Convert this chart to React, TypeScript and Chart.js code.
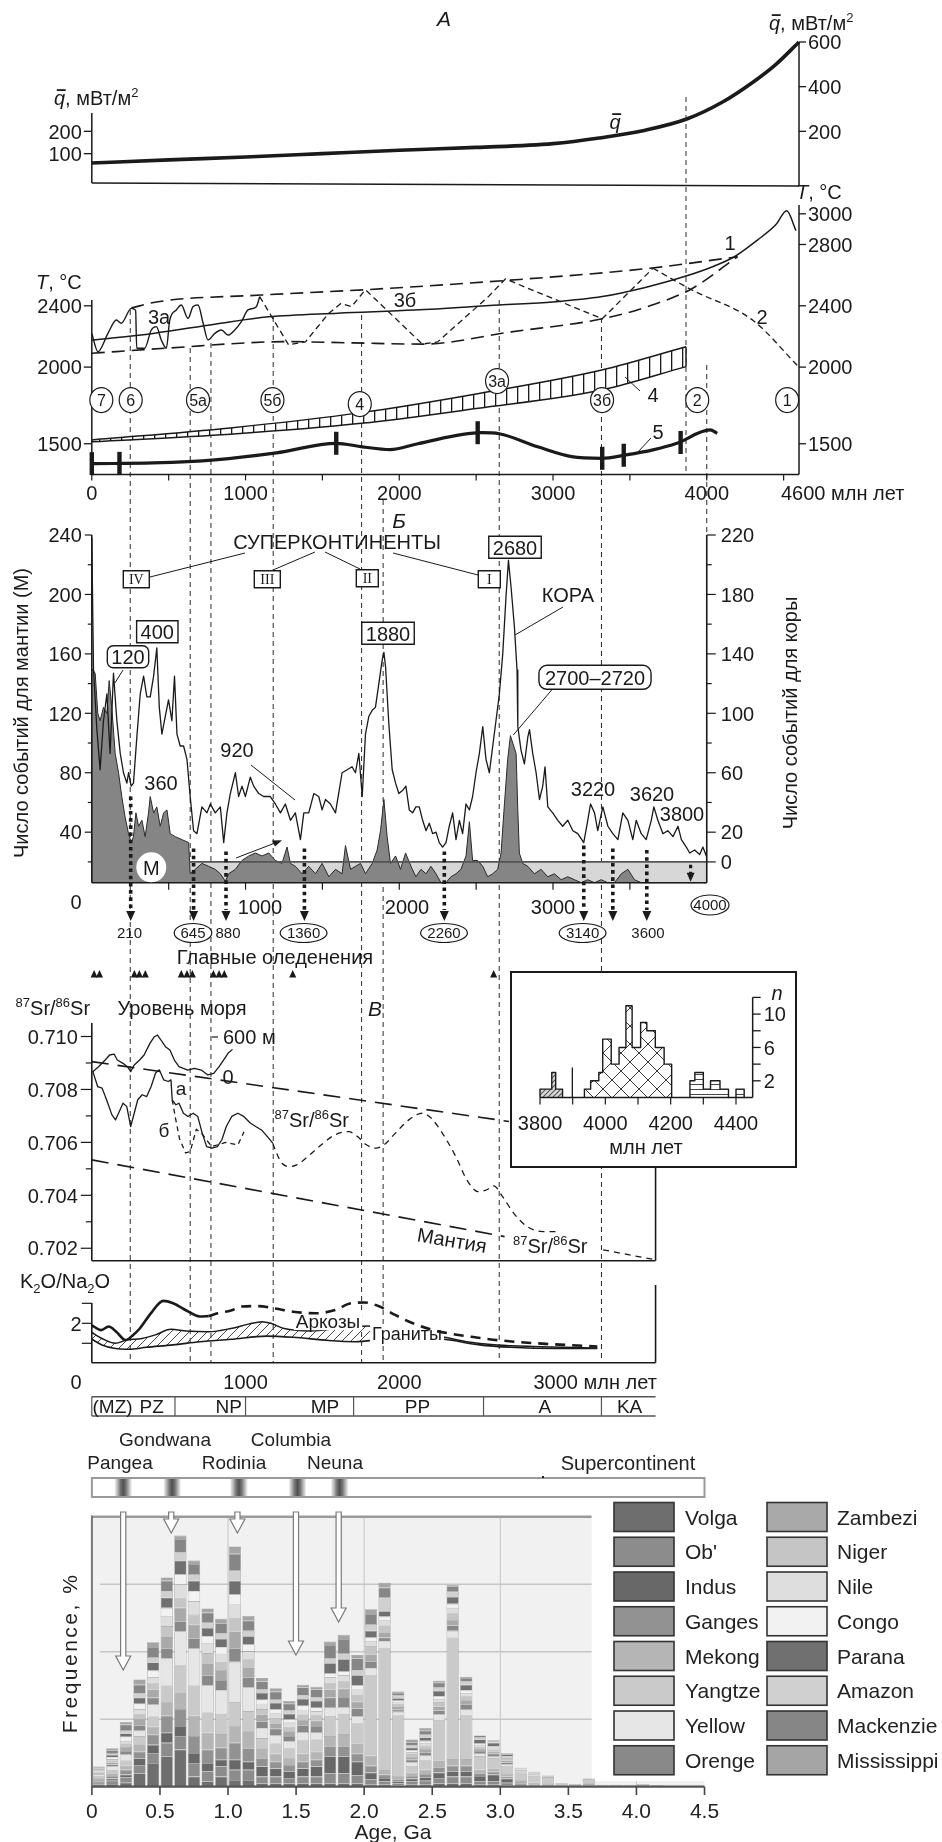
import React, { useEffect, useRef } from 'react';
import { Chart, registerables } from 'chart.js';

Chart.register(...registerables);

const W = 942;
const H = 1842;
const X0 = 91.8;
const X4600 = 799;
const FF = "'Liberation Sans', Arial, Helvetica, sans-serif";
const FSERIF = "'Liberation Serif', 'Times New Roman', serif";
const INK = '#1a1a1a';

/* ======================= DATA ======================= */
// A: mean heat flow q (mW/m2) vs age (Ma)
const heatFlow = [[0, 58], [500, 72], [1000, 85], [1500, 100], [2000, 115], [2500, 128], [3000, 145], [3300, 170], [3600, 205], [3870, 255], [4100, 330], [4300, 420], [4450, 500], [4600, 600]];
const heatTicksL = [100, 200];
const heatTicksR = [200, 400, 600];

// T panel: temperatures (°C) vs age (Ma)
const tCurve1 = [[0, 2175], [400, 2220], [800, 2280], [1150, 2328], [1600, 2352], [2100, 2372], [2650, 2405], [3000, 2425], [3320, 2460], [3600, 2520], [3865, 2594], [4050, 2660], [4180, 2720], [4330, 2829], [4450, 2930], [4520, 3020], [4580, 2890]];
const tUpper = [[257, 2385], [420, 2425], [1100, 2470], [1780, 2505], [2690, 2565], [3630, 2645], [4200, 2720]];
const tLower = [[0, 2090], [480, 2123], [1270, 2166], [1700, 2158], [2150, 2150], [2730, 2230], [3320, 2315], [3600, 2390], [3900, 2510], [4200, 2720]];
const t3a = [[0, 2220], [40, 2101], [105, 2220], [160, 2307], [192, 2286], [257, 2383], [285, 2370], [292, 2123], [344, 2123], [387, 2242], [420, 2264], [452, 2177], [485, 2123], [507, 2307], [550, 2373], [582, 2405], [626, 2318], [658, 2394], [691, 2405], [724, 2286], [756, 2177], [800, 2220], [843, 2242], [886, 2209], [930, 2242], [973, 2296], [1016, 2373], [1070, 2394], [1092, 2460]];
const t3b = [[1092, 2460], [1280, 2145], [1390, 2165], [1540, 2350], [1620, 2415], [1690, 2395], [1780, 2505], [2150, 2150], [2250, 2165], [2580, 2460], [2690, 2575], [3320, 2315], [3650, 2645]];
const t2 = [[3650, 2645], [3900, 2505], [4300, 2305], [4590, 2010]];
const t4Low = [[0, 1513], [900, 1562], [1753, 1633], [2500, 1730], [3317, 1851], [3865, 2003]];
const t4Up = [[0, 1525], [900, 1603], [1753, 1703], [2500, 1825], [3317, 1981], [3865, 2133]];
const t5 = [[0, 1370], [400, 1375], [800, 1395], [1200, 1440], [1590, 1503], [1760, 1480], [1940, 1462], [2120, 1500], [2535, 1572], [2650, 1565], [2900, 1480], [3121, 1416], [3317, 1405], [3474, 1427], [3650, 1460], [3806, 1503], [4022, 1590], [4068, 1568]];
const t5Bars = [[0, 1370], [180, 1372], [1590, 1503], [2510, 1572], [3320, 1405], [3460, 1425], [3830, 1508]];
const tTicksL = [1500, 2000, 2400];
const tTicksR = [1500, 2000, 2400, 2800, 3000];
const ageTicks = [0, 1000, 2000, 3000, 4000];
const stageMarks = [['7', 62, 1785], ['6', 253, 1785], ['5а', 691, 1785], ['5б', 1175, 1785], ['4', 1743, 1759], ['3а', 2636, 1909], ['3б', 3319, 1785], ['2', 3938, 1785], ['1', 4523, 1785]];

// Reference (dashed) ages crossing panels
const refAges = [250, 640, 775, 1180, 1755, 1895, 2650, 3315, 3865, 4000];

// Б panel: crust events (right axis) and mantle events (left axis)
const crustEvents = [[0, 218], [11, 130], [33, 89], [54, 62], [76, 95], [98, 113], [119, 73], [141, 127], [163, 95], [185, 73], [206, 60], [228, 53], [239, 60], [256, 51], [271, 53], [293, 84], [315, 113], [337, 125], [358, 111], [380, 111], [402, 125], [423, 144], [439, 104], [456, 86], [478, 98], [499, 109], [521, 95], [538, 125], [554, 86], [575, 78], [597, 78], [619, 69], [640, 44], [662, 21], [684, 19], [716, 37], [749, 33], [771, 39], [803, 33], [836, 37], [858, 13], [879, 33], [901, 46], [934, 60], [955, 44], [977, 51], [999, 44], [1031, 57], [1053, 51], [1086, 46], [1118, 44], [1161, 44], [1194, 39], [1227, 33], [1259, 39], [1292, 28], [1324, 33], [1357, 15], [1379, 33], [1411, 33], [1444, 46], [1476, 44], [1498, 35], [1520, 42], [1552, 39], [1585, 33], [1628, 60], [1661, 62], [1693, 64], [1715, 60], [1737, 73], [1759, 44], [1780, 86], [1802, 98], [1824, 102], [1845, 104], [1867, 120], [1889, 136], [1900, 141], [1911, 131], [1932, 93], [1954, 62], [1976, 53], [1997, 46], [2021, 48], [2043, 51], [2065, 35], [2087, 33], [2108, 37], [2130, 37], [2152, 28], [2174, 21], [2195, 26], [2217, 19], [2239, 20], [2260, 13], [2282, 10], [2304, 13], [2325, 24], [2347, 33], [2369, 15], [2391, 28], [2412, 19], [2434, 39], [2456, 35], [2477, 44], [2499, 60], [2521, 73], [2543, 91], [2564, 69], [2586, 60], [2608, 78], [2629, 95], [2651, 113], [2673, 140], [2694, 178], [2710, 203], [2727, 185], [2749, 158], [2766, 129], [2771, 91], [2792, 75], [2814, 66], [2836, 84], [2847, 89], [2868, 73], [2890, 60], [2912, 42], [2933, 51], [2948, 64], [2966, 37], [2998, 33], [3031, 28], [3063, 24], [3096, 28], [3129, 21], [3161, 19], [3200, 13], [3226, 28], [3244, 39], [3270, 33], [3291, 21], [3324, 37], [3357, 24], [3389, 19], [3422, 15], [3454, 33], [3487, 28], [3519, 15], [3541, 28], [3574, 19], [3606, 15], [3639, 28], [3656, 37], [3682, 28], [3715, 19], [3747, 21], [3780, 17], [3813, 24], [3835, 15], [3867, 10], [3889, 6], [3921, 8], [3954, 5], [3975, 10], [3997, 4]];
const mantleEvents = [[0, 150], [22, 147], [39, 120], [54, 115], [76, 124], [98, 120], [113, 142], [130, 124], [152, 93], [174, 80], [195, 64], [217, 50], [239, 39], [256, 33], [271, 37], [287, 53], [304, 44], [326, 48], [347, 37], [369, 53], [380, 64], [402, 53], [423, 57], [445, 44], [467, 53], [489, 55], [510, 39], [543, 37], [586, 35], [630, 33], [640, 12], [673, 15], [716, 19], [760, 17], [803, 15], [836, 12], [869, 7], [890, 12], [934, 15], [977, 21], [1021, 24], [1064, 26], [1107, 24], [1151, 26], [1194, 21], [1237, 19], [1270, 30], [1292, 19], [1324, 17], [1368, 12], [1411, 17], [1455, 12], [1498, 19], [1542, 10], [1585, 15], [1628, 12], [1650, 31], [1683, 15], [1715, 17], [1748, 19], [1780, 12], [1824, 19], [1856, 28], [1878, 41], [1900, 62], [1921, 37], [1943, 19], [1976, 24], [2008, 15], [2041, 26], [2076, 17], [2108, 10], [2141, 15], [2174, 12], [2206, 17], [2239, 12], [2271, 6], [2304, 6], [2336, 10], [2369, 12], [2401, 15], [2434, 24], [2456, 47], [2477, 21], [2510, 21], [2543, 17], [2575, 10], [2608, 12], [2640, 15], [2662, 26], [2684, 59], [2705, 89], [2723, 105], [2744, 98], [2760, 93], [2771, 55], [2781, 26], [2803, 19], [2836, 17], [2879, 12], [2922, 15], [2966, 10], [3009, 12], [3053, 8], [3096, 10], [3140, 8], [3183, 6], [3226, 8], [3270, 6], [3313, 8], [3357, 6], [3400, 6], [3444, 12], [3487, 15], [3530, 8], [3574, 6], [3617, 6], [4000, 6]];
const mantleTicks = [40, 80, 120, 160, 200, 240];
const crustTicks = [0, 20, 60, 100, 140, 180, 220];
const minimaAges = [253, 662, 873, 1383, 2293, 3200, 3389, 3610];
const minimaStart = [64, 29, 27, 29, 27, 31, 29, 28];
const minimaLabels = ['210', '645', '880', '1360', '2260', '3140', '', '3600'];
const glaciations = [15, 50, 277, 309, 348, 582, 619, 654, 791, 828, 862, 1307, 2614];

// В panel: 87Sr/86Sr and sea level
const srSeawaterLine = [[0, 0.70905], [2714, 0.70679]];
const srMantleLine = [[0, 0.70534], [2685, 0.70244]];
const seaLevel = [[6, 92], [44, 164], [87, 261], [116, 334], [145, 348], [166, 261], [203, 213], [232, 164], [253, 92], [276, 189], [311, 261], [340, 334], [378, 503], [407, 600], [427, 624], [450, 552], [479, 455], [508, 407], [537, 261], [567, 164], [595, 140], [625, 116], [668, 140], [712, 116], [755, 44], [793, 68], [828, 164], [857, 261], [886, 358], [915, 416]];
const srA = [[6, 0.70869], [38, 0.70811], [67, 0.70805], [96, 0.70761], [131, 0.70704], [154, 0.70685], [174, 0.7071], [203, 0.70748], [227, 0.70736], [253, 0.7066], [276, 0.7071], [299, 0.70761], [328, 0.7078], [357, 0.70773], [386, 0.70811], [415, 0.70862], [439, 0.70874], [468, 0.70836], [497, 0.7083], [515, 0.70836], [523, 0.70761], [547, 0.70742], [567, 0.70748], [596, 0.7071], [625, 0.70698], [660, 0.7071], [689, 0.70698], [718, 0.70635], [747, 0.70584], [782, 0.70578], [817, 0.70584], [846, 0.7061], [875, 0.7066], [910, 0.70698], [950, 0.7071], [988, 0.70698], [1031, 0.70673], [1066, 0.7066], [1104, 0.70647], [1142, 0.70622], [1177, 0.70597]];
const srB = [[523, 0.70761], [545, 0.7069], [570, 0.70615], [610, 0.7056], [640, 0.70565], [680, 0.7065], [720, 0.7063], [780, 0.70584], [870, 0.706], [950, 0.7059], [990, 0.7064]];
const srDashed = [[1177, 0.70597], [1202, 0.70559], [1237, 0.70521], [1283, 0.70509], [1333, 0.70515], [1406, 0.70547], [1493, 0.70591], [1580, 0.70628], [1670, 0.70641], [1728, 0.70622], [1786, 0.70591], [1844, 0.70578], [1902, 0.70591], [1975, 0.70635], [2062, 0.70685], [2149, 0.7071], [2207, 0.70692], [2280, 0.70635], [2367, 0.70547], [2440, 0.70458], [2512, 0.70414], [2570, 0.70421], [2614, 0.70436], [2672, 0.70395], [2745, 0.70332], [2832, 0.70282], [2934, 0.70263], [3021, 0.70263], [3060, null], [3326, 0.70194], [3669, 0.70156]];
const srTicks = [0.702, 0.703, 0.704, 0.705, 0.706, 0.707, 0.708, 0.709, 0.71];

// Inset histogram (zircon ages, Ma)
const insetEdges1 = [3800, 3836, 3848, 3869];
const insetCounts1 = [1, 3, 1];
const insetEdges2 = [3936, 3955, 3980, 3992, 4018, 4042, 4063, 4082, 4108, 4127, 4153, 4180, 4203];
const insetCounts2 = [1, 2, 3, 7, 4, 6, 11, 6, 9, 8, 6, 4];
const insetEdges3 = [4259, 4274, 4300, 4322, 4351, 4377];
const insetCounts3 = [2, 3, 1, 2, 1];
const insetEdges4 = [4400, 4425];
const insetCounts4 = [1];
const insetXTicks = [3800, 4000, 4200, 4400];
const insetYTicks = [2, 6, 10];

// K2O/Na2O panel
const k2oSolid = [[0, 1.95], [61, 1.83], [110, 1.92], [159, 1.79], [220, 1.58], [269, 1.71], [312, 1.87], [384, 2.25], [465, 2.56], [529, 2.5], [615, 2.32], [702, 2.17], [760, 2.18]];
const k2oDashed = [[760, 2.18], [818, 2.25], [905, 2.32], [977, 2.42], [1078, 2.43], [1193, 2.37], [1309, 2.29], [1453, 2.25], [1583, 2.33], [1684, 2.5], [1771, 2.52], [1872, 2.42], [1973, 2.21], [2089, 2.0], [2219, 1.83], [2349, 1.73], [2494, 1.65], [2638, 1.58], [2812, 1.52], [2985, 1.48], [3288, 1.42]];
const k2oUpper = [[0, 1.77], [66, 1.62], [153, 1.5], [225, 1.58], [327, 1.62], [413, 1.71], [514, 1.85], [615, 1.81], [760, 1.79], [905, 1.87], [1020, 1.98], [1107, 2.04], [1165, 2.0], [1251, 1.87], [1425, 1.81], [1598, 1.87], [1713, 1.92], [1800, 1.93], [1887, 1.73], [2147, 1.7], [2292, 1.65], [2436, 1.54], [2638, 1.46], [2870, 1.42], [3288, 1.38]];
const k2oLower = [[0, 1.6], [66, 1.46], [153, 1.37], [240, 1.35], [355, 1.4], [529, 1.46], [702, 1.54], [905, 1.6], [1136, 1.68], [1309, 1.65], [1540, 1.57], [1713, 1.54], [1887, 1.6], [2060, 1.65], [2292, 1.6], [2523, 1.46], [2725, 1.4], [3014, 1.37], [3288, 1.37]];
const eraBounds = [0, 541, 1000, 1703, 2548, 3315, 3667];
const eraNames = ['(MZ)', 'PZ', 'NP', 'MP', 'PP', 'A', 'KA'];
const eraLabelAges = [135, 390, 890, 1517, 2118, 2946, 3498];

// Bottom: detrital zircon age frequency by river (stacked, %), 0.1 Ga bins
const binAges = [0.05, 0.15, 0.25, 0.35, 0.45, 0.55, 0.65, 0.75, 0.85, 0.95, 1.05, 1.15, 1.25, 1.35, 1.45, 1.55, 1.65, 1.75, 1.85, 1.95, 2.05, 2.15, 2.25, 2.35, 2.45, 2.55, 2.65, 2.75, 2.85, 2.95, 3.05, 3.15, 3.25, 3.35, 3.45, 3.55, 3.65, 3.75, 3.85, 3.95, 4.05, 4.15];
const rivers = ['Volga', "Ob'", 'Indus', 'Ganges', 'Mekong', 'Yangtze', 'Yellow', 'Orenge', 'Zambezi', 'Niger', 'Nile', 'Congo', 'Parana', 'Amazon', 'Mackenzie', 'Mississippi'];
const riverColors = ['#6e6e6e', '#8c8c8c', '#686868', '#929292', '#b5b5b5', '#cacaca', '#e6e6e6', '#898989', '#a9a9a9', '#c5c5c5', '#dedede', '#f2f2f2', '#707070', '#d0d0d0', '#868686', '#a5a5a5'];
const volga = [0.3, 0.4, 0.6, 2.0, 3.5, 4.5, 5.5, 1.5, 0.8, 1.5, 1.0, 1.0, 0.5, 0.5, 0.5, 0.5, 0.5, 0.5, 0.5, 0.5, 0.3, 0.3, 0.2, 0.3, 0.3, 0.5, 0.5, 0.5, 0.3, 0.3, 0.2, 0.1, 0.1, 0.1, 0.1, 0.1, 0.2, 0.1, 0.1, 0.1, 0.1, 0.1];
const ob = [0.3, 0.5, 0.8, 1.2, 1.5, 2.0, 2.0, 2.0, 1.5, 1.5, 1.5, 1.5, 1.0, 1.0, 0.8, 1.0, 1.0, 1.5, 1.5, 1.2, 0.8, 0.5, 0.3, 0.5, 0.6, 0.8, 1.0, 1.0, 0.5, 0.5, 0.4, 0.2, 0.1, 0.1, 0, 0, 0.1, 0, 0, 0, 0, 0];
const indus = [0.2, 0.3, 0.4, 1.0, 1.2, 1.5, 1.5, 1.5, 1.2, 1.0, 1.5, 1.2, 1.5, 1.2, 1.0, 1.2, 1.5, 2.5, 2.5, 2.0, 1.0, 0.5, 0.3, 0.4, 0.5, 0.8, 0.8, 0.8, 0.8, 1.0, 0.6, 0.2, 0.1, 0.1, 0, 0.1, 0.1, 0, 0, 0, 0.1, 0];
const ganges = [0.2, 0.4, 0.7, 1.0, 1.5, 2.5, 2.5, 2.5, 2.0, 1.8, 2.5, 2.0, 1.2, 1.0, 0.9, 1.0, 1.0, 1.5, 1.5, 1.2, 1.0, 0.5, 0.3, 0.4, 0.5, 0.8, 0.8, 0.8, 0.4, 0.4, 0.3, 0.2, 0.1, 0.1, 0, 0, 0.1, 0, 0, 0, 0, 0];
const mekong = [0.3, 0.4, 0.6, 1.1, 1.2, 2.0, 2.5, 3.0, 2.5, 2.0, 2.5, 2.5, 1.5, 1.2, 1.0, 1.2, 1.2, 1.5, 1.8, 1.5, 1.5, 0.8, 0.5, 0.5, 0.6, 1.0, 1.0, 1.0, 0.5, 0.5, 0.4, 0.3, 0.2, 0.1, 0, 0, 0, 0, 0, 0, 0, 0];
const yangtze = [0.3, 0.5, 0.8, 1.2, 1.5, 2.5, 4.0, 4.5, 3.0, 3.0, 3.5, 3.0, 1.5, 1.5, 1.5, 2.0, 1.8, 3.0, 3.0, 3.0, 12.0, 18.0, 9.0, 1.0, 1.5, 6.0, 18.0, 6.5, 2.0, 1.5, 1.2, 1.0, 1.0, 0.8, 0.3, 0.2, 0.5, 0.2, 0.2, 0.2, 0.2, 0.1];
const yellow = [0.2, 0.5, 0.9, 0.8, 1.8, 4.0, 5.0, 5.5, 4.0, 3.5, 6.0, 3.5, 1.5, 1.2, 1.0, 1.2, 1.0, 1.2, 1.0, 1.0, 1.0, 1.0, 0.5, 0.5, 0.6, 0.8, 1.0, 0.8, 0.4, 0.3, 0.2, 0.1, 0.1, 0, 0, 0, 0, 0, 0, 0, 0, 0];
const orenge = [0.2, 0.3, 0.5, 0.8, 1.0, 1.5, 1.5, 1.5, 1.5, 1.5, 2.0, 1.5, 1.0, 1.0, 0.8, 1.0, 1.0, 1.5, 1.5, 1.2, 1.0, 0.5, 0.3, 0.4, 0.5, 0.6, 0.8, 0.8, 0.4, 0.4, 0.3, 0.1, 0.1, 0.1, 0, 0, 0.1, 0, 0, 0, 0, 0];
const zambezi = [0.1, 0.3, 0.6, 0.9, 1.2, 1.8, 2.0, 2.0, 1.8, 1.5, 2.5, 1.5, 1.0, 0.8, 0.7, 0.8, 0.8, 1.2, 1.2, 1.0, 1.0, 0.8, 0.4, 0.4, 0.5, 0.6, 0.8, 0.6, 0.3, 0.3, 0.3, 0.1, 0.1, 0.1, 0, 0, 0, 0, 0, 0, 0, 0];
const niger = [0.1, 0.3, 0.5, 0.8, 1.0, 1.5, 1.5, 1.5, 1.5, 1.2, 2.0, 1.2, 0.8, 0.8, 0.7, 0.8, 0.8, 1.0, 1.2, 1.0, 1.2, 1.0, 0.5, 0.4, 0.5, 0.6, 1.0, 0.6, 0.3, 0.3, 0.3, 0.2, 0.1, 0.1, 0.1, 0, 0.1, 0, 0, 0, 0, 0];
const nile = [0.1, 0.2, 0.4, 0.7, 0.8, 1.5, 2.0, 2.0, 1.5, 1.2, 2.0, 1.2, 0.8, 0.7, 0.6, 0.7, 0.6, 0.8, 0.8, 0.8, 0.8, 0.8, 0.3, 0.3, 0.4, 0.5, 0.8, 0.5, 0.3, 0.3, 0.2, 0.1, 0.1, 0.1, 0, 0, 0, 0, 0, 0, 0, 0];
const congo = [0.1, 0.3, 0.6, 0.8, 1.0, 1.2, 1.5, 1.5, 1.0, 1.0, 1.5, 1.0, 0.6, 0.6, 0.5, 0.6, 0.5, 0.6, 0.6, 0.6, 0.5, 0.5, 0.2, 0.3, 0.3, 0.4, 0.6, 0.4, 0.2, 0.2, 0.1, 0.1, 0, 0, 0, 0, 0, 0, 0, 0, 0, 0];
const parana = [0.2, 0.3, 0.5, 0.9, 1.2, 1.5, 2.0, 1.5, 1.2, 1.2, 2.0, 1.2, 1.0, 0.9, 0.8, 1.0, 1.0, 1.5, 1.8, 1.5, 1.0, 0.8, 0.3, 0.4, 0.5, 0.8, 1.0, 0.8, 0.6, 0.5, 0.3, 0.1, 0.1, 0, 0, 0, 0, 0, 0, 0, 0, 0];
const amazon = [0.1, 0.2, 0.4, 0.6, 0.8, 1.0, 1.2, 1.0, 0.8, 0.8, 1.5, 0.8, 0.5, 0.5, 0.5, 0.6, 0.5, 0.7, 0.8, 0.8, 1.0, 2.0, 0.4, 0.3, 0.4, 0.5, 0.8, 0.5, 0.3, 0.2, 0.2, 0, 0, 0, 0, 0, 0, 0, 0, 0, 0, 0];
const mackenzie = [0.2, 0.5, 0.9, 1.3, 1.5, 1.5, 2.0, 1.5, 1.5, 1.5, 2.5, 1.5, 1.2, 1.2, 1.0, 1.1, 1.2, 2.0, 2.2, 1.7, 1.5, 1.5, 0.4, 0.5, 0.6, 0.7, 0.8, 0.5, 0.3, 0.2, 0, 0, 0, 0, 0, 0, 0, 0, 0, 0, 0, 0];
const mississippi = [0.1, 0.3, 0.4, 0.8, 0.7, 0.5, 0.5, 0.5, 0.6, 0.7, 1.1, 0.7, 0.5, 0.5, 0.4, 0.4, 0.4, 0.5, 0.6, 0.5, 0.7, 0.7, 0.2, 0.4, 0.4, 0.3, 0.2, 0.2, 0, 0, 0, 0, 0, 0, 0, 0, 0, 0, 0, 0, 0, 0];
const riverSeries = [volga, ob, indus, ganges, mekong, yangtze, yellow, orenge, zambezi, niger, nile, congo, parana, amazon, mackenzie, mississippi];
const gaTicks = [0, 0.5, 1, 1.5, 2, 2.5, 3, 3.5, 4, 4.5];
const supercontinents = ['Pangea', 'Gondwana', 'Rodinia', 'Columbia', 'Neuna'];
const supercontinentAges = [0.23, 0.59, 1.08, 1.51, 1.82];

/* ======================= DRAW HELPERS ======================= */
function parseRich(s: string) {
  const out: any[] = [];
  const re = /\^\{([^}]*)\}|_\{([^}]*)\}|\*([^*]*)\*|~([^~]*)~|([^\^_*~]+)/g;
  let m: any;
  while ((m = re.exec(s))) {
    if (m[1] !== undefined) out.push({ t: m[1], sup: true });
    else if (m[2] !== undefined) out.push({ t: m[2], sub: true });
    else if (m[3] !== undefined) out.push({ t: m[3], it: true });
    else if (m[4] !== undefined) out.push({ t: m[4], it: true, bar: true });
    else out.push({ t: m[5] });
  }
  return out;
}

function rt(c: any, s: string, x: number, y: number, o: any = {}) {
  const size = o.size || 20;
  const align = o.align || 'center';
  const fam = o.font || FF;
  const segs = parseRich(s);
  c.save();
  if (o.ls && 'letterSpacing' in c) c.letterSpacing = o.ls;
  c.translate(x, y);
  if (o.rot) c.rotate(o.rot);
  const fnt = (sg: any) => `${sg.it ? 'italic ' : ''}${(sg.sup || sg.sub) ? Math.round(size * 0.66) : size}px ${fam}`;
  let w = 0;
  const ws = segs.map((sg: any) => { c.font = fnt(sg); const v = c.measureText(sg.t).width; w += v; return v; });
  let cx = align === 'left' ? 0 : align === 'center' ? -w / 2 : -w;
  const base = size * 0.36;
  if (o.bg) { c.fillStyle = o.bg; c.fillRect(cx - 2, -size * 0.5, w + 4, size * 0.98); }
  c.textBaseline = 'alphabetic';
  c.textAlign = 'left';
  c.fillStyle = o.color || INK;
  segs.forEach((sg: any, i: number) => {
    c.font = fnt(sg);
    const dy = sg.sup ? -size * 0.4 : sg.sub ? size * 0.22 : 0;
    c.fillText(sg.t, cx, base + dy);
    if (sg.bar) c.fillRect(cx + ws[i] * 0.25, base - size * 0.8, ws[i] * 0.8, Math.max(1.6, size * 0.09));
    cx += ws[i];
  });
  c.restore();
  return w;
}

function seg(c: any, p: number[][], w = 1.3, col = INK, dash: number[] | null = null) {
  c.save();
  c.beginPath();
  c.lineWidth = w;
  c.strokeStyle = col;
  c.setLineDash(dash || []);
  c.moveTo(p[0][0], p[0][1]);
  for (let i = 1; i < p.length; i++) c.lineTo(p[i][0], p[i][1]);
  c.stroke();
  c.restore();
}

function triDown(c: any, x: number, tipY: number, w: number, h: number) {
  c.beginPath(); c.moveTo(x - w / 2, tipY - h); c.lineTo(x + w / 2, tipY - h); c.lineTo(x, tipY); c.closePath();
  c.fillStyle = INK; c.fill();
}
function triUp(c: any, x: number, baseY: number, w: number, h: number) {
  c.beginPath(); c.moveTo(x - w / 2, baseY); c.lineTo(x + w / 2, baseY); c.lineTo(x, baseY - h); c.closePath();
  c.fillStyle = INK; c.fill();
}

function rrect(c: any, x: number, y: number, w: number, h: number, r: number) {
  c.beginPath();
  c.moveTo(x + r, y);
  c.arcTo(x + w, y, x + w, y + h, r);
  c.arcTo(x + w, y + h, x, y + h, r);
  c.arcTo(x, y + h, x, y, r);
  c.arcTo(x, y, x + w, y, r);
  c.closePath();
}

function boxLabel(c: any, s: string, x: number, y: number, o: any = {}) {
  const size = o.size || 20;
  c.save();
  c.font = `${size}px ${o.font || FF}`;
  const w = o.w || c.measureText(s).width + (o.px ?? 5) * 2;
  const h = o.h || size + 3;
  if (o.round) rrect(c, x - w / 2, y - h / 2, w, h, o.round);
  else { c.beginPath(); c.rect(x - w / 2, y - h / 2, w, h); }
  c.fillStyle = '#fff'; c.fill();
  c.lineWidth = o.lw || 1.4; c.strokeStyle = INK; c.stroke();
  c.restore();
  rt(c, s, x, y + (o.dy || 0), { size, font: o.font });
}

function ringLabel(c: any, s: string, x: number, y: number, rx: number, ry: number, size: number) {
  c.save();
  c.beginPath(); c.ellipse(x, y, rx, ry, 0, 0, Math.PI * 2);
  c.fillStyle = '#fff'; c.fill(); c.lineWidth = 1.2; c.strokeStyle = INK; c.stroke();
  c.restore();
  rt(c, s, x, y, { size });
}

function makePattern(kind: string) {
  const cv = document.createElement('canvas');
  const g: any = cv.getContext('2d');
  if (kind === 'vert') {
    cv.width = 11; cv.height = 4;
    g.fillStyle = '#fff'; g.fillRect(0, 0, 11, 4);
    g.fillStyle = INK; g.fillRect(0, 0, 1.3, 4);
  } else if (kind === 'diag') {
    cv.width = 9; cv.height = 9;
    g.strokeStyle = '#333'; g.lineWidth = 0.9;
    g.beginPath(); g.moveTo(0, 9); g.lineTo(9, 0); g.moveTo(-2, 2); g.lineTo(2, -2); g.moveTo(7, 11); g.lineTo(11, 7); g.stroke();
  } else if (kind === 'diagGrey') {
    cv.width = 5; cv.height = 5;
    g.fillStyle = '#d8d8d8'; g.fillRect(0, 0, 5, 5);
    g.strokeStyle = '#555'; g.lineWidth = 1.1;
    g.beginPath(); g.moveTo(0, 5); g.lineTo(5, 0); g.moveTo(-1, 1); g.lineTo(1, -1); g.moveTo(4, 6); g.lineTo(6, 4); g.stroke();
  } else if (kind === 'cross') {
    cv.width = 18; cv.height = 18;
    g.fillStyle = '#fff'; g.fillRect(0, 0, 18, 18);
    g.strokeStyle = '#222'; g.lineWidth = 0.9;
    g.beginPath(); g.moveTo(0, 0); g.lineTo(18, 18); g.moveTo(18, 0); g.lineTo(0, 18); g.stroke();
  } else {
    cv.width = 4; cv.height = 5;
    g.fillStyle = '#fff'; g.fillRect(0, 0, 4, 5);
    g.fillStyle = '#333'; g.fillRect(0, 4, 4, 0.9);
  }
  return g.createPattern(cv, 'repeat');
}

const pts = (a: any[]) => a.map((p: any) => ({ x: p[0], y: p[1] }));

function ln(data: any[], o: any = {}) {
  return {
    data: pts(data),
    borderColor: o.c || INK,
    borderWidth: o.w ?? 1.3,
    borderDash: o.dash || [],
    pointRadius: 0,
    pointHoverRadius: 0,
    fill: o.fill ?? false,
    backgroundColor: o.bg || 'rgba(0,0,0,0)',
    cubicInterpolationMode: o.mono ? 'monotone' : 'default',
    tension: 0,
    yAxisID: o.y || 'y',
    clip: false,
    spanGaps: false,
    borderJoinStyle: 'round',
    order: o.order ?? 0,
  };
}

function steps(edges: number[], counts: number[]) {
  const p: number[][] = [[edges[0], 0]];
  counts.forEach((n, i) => { p.push([edges[i], n]); p.push([edges[i + 1], n]); });
  p.push([edges[edges.length - 1], 0]);
  return p;
}

function build(cv: any, type: string, datasets: any[], scales: any, pad: any, hooks: any) {
  return new Chart(cv, {
    type: type as any,
    data: { datasets },
    options: {
      responsive: false,
      maintainAspectRatio: false,
      animation: false,
      devicePixelRatio: 1,
      events: [],
      layout: { padding: pad },
      plugins: { legend: { display: false }, tooltip: { enabled: false }, title: { display: false } } as any,
      scales,
    } as any,
    plugins: [{ id: 'deco', ...hooks }],
  });
}

const lin = (min: number, max: number, extra: any = {}) => ({ type: 'linear', min, max, display: false, ...extra });
const padAge = (top: number, bottom: number) => ({ left: X0, right: W - X4600, top, bottom: H - bottom });

/* ======================= CHARTS ======================= */
function chartA(cv: any) {
  return build(cv, 'line', [ln(heatFlow, { w: 3.6, mono: true })], { x: lin(0, 4600), y: lin(0, 600) }, padAge(42, 176), {
    afterDatasetsDraw(ch: any) {
      const c = ch.ctx, y = ch.scales.y, x = ch.scales.x;
      const xr = x.getPixelForValue(4600);
      seg(c, [[X0, 113], [X0, 183]], 1.5);
      heatTicksL.forEach((v) => { const py = y.getPixelForValue(v); seg(c, [[X0 - 8, py], [X0, py]], 1.3); rt(c, String(v), X0 - 10, py, { align: 'right' }); });
      seg(c, [[xr, 42], [xr, 186]], 1.5);
      heatTicksR.forEach((v) => { const py = y.getPixelForValue(v); seg(c, [[xr, py], [xr + 7, py]], 1.3); rt(c, String(v), xr + 9, py, { align: 'left' }); });
      seg(c, [[X0, 183], [xr, 186]], 1.5);
      rt(c, '*А*', 444, 18, { size: 21 });
      rt(c, '~q~, мВт/м^{2}', 54, 98, { align: 'left' });
      rt(c, '~q~, мВт/м^{2}', 769, 23, { align: 'left' });
      rt(c, '~q~', 615, 122);
    },
  });
}

function chartT(cv: any) {
  const vpat = makePattern('vert');
  const ds = [
    ln(tCurve1, { w: 1.5, mono: true }),
    ln(t3a, { w: 1.4, mono: true }),
    ln(tUpper, { w: 1.6, dash: [13, 7], mono: true }),
    ln(tLower, { w: 1.6, dash: [13, 7], mono: true }),
    ln(t3b, { w: 1.3, dash: [6, 4] }),
    ln(t2, { w: 1.3, dash: [6, 4], mono: true }),
    ln(t4Low, { w: 1.5, mono: true }),
    ln(t4Up, { w: 1.5, mono: true, fill: { target: 6 }, bg: vpat }),
    ln(t5, { w: 3.2, mono: true }),
  ];
  return build(cv, 'line', ds, { x: lin(0, 4600), y: lin(1300, 3100) }, padAge(198.5, 474.4), {
    beforeDatasetsDraw(ch: any) {
      const c = ch.ctx, x = ch.scales.x;
      const spans = [[310, 1362], [348, 1362], [343, 1362], [317, 1362], [315, 1362], [500, 1362], [300, 1362], [318, 1362], [97, 474], [365, 535]];
      refAges.forEach((a, i) => { const px = x.getPixelForValue(a); seg(c, [[px, spans[i][0]], [px, spans[i][1]]], 1, '#2a2a2a', [5, 4]); });
    },
    afterDatasetsDraw(ch: any) {
      const c = ch.ctx, x = ch.scales.x, y = ch.scales.y;
      const xr = x.getPixelForValue(4600);
      const yb = y.getPixelForValue(1300);
      seg(c, [[x.getPixelForValue(3865), y.getPixelForValue(2003)], [x.getPixelForValue(3865), y.getPixelForValue(2133)]], 1.5);
      seg(c, [[X0, 300], [X0, yb]], 1.5);
      tTicksL.forEach((v) => { const py = y.getPixelForValue(v); seg(c, [[X0 - 8, py], [X0, py]], 1.3); rt(c, String(v), X0 - 10, py, { align: 'right' }); });
      seg(c, [[xr, 205], [xr, yb]], 1.5);
      tTicksR.forEach((v) => { const py = y.getPixelForValue(v); seg(c, [[xr, py], [xr + 7, py]], 1.3); rt(c, String(v), xr + 9, py, { align: 'left' }); });
      seg(c, [[X0, yb], [xr, yb]], 1.5);
      for (let a = 0; a <= 4500; a += 500) { const px = x.getPixelForValue(a); seg(c, [[px, yb], [px, yb + 6]], 1.2); }
      ageTicks.forEach((a) => rt(c, String(a), x.getPixelForValue(a), 493));
      rt(c, '4600 млн лет', 781, 493, { align: 'left' });
      rt(c, '*T*, °C', 36, 282, { align: 'left' });
      rt(c, '*T*, °C', 796, 192, { align: 'left' });
      t5Bars.forEach(([a, v]) => { const px = x.getPixelForValue(a), py = y.getPixelForValue(v); c.fillStyle = INK; c.fillRect(px - 2.2, py - 11.5, 4.4, 23); });
      stageMarks.forEach(([s, a, v]: any) => ringLabel(c, s, x.getPixelForValue(a), y.getPixelForValue(v), 11.5, 12.5, 16));
      rt(c, '3а', 159, 317, { size: 20 });
      rt(c, '3б', 405, 300, { size: 20 });
      rt(c, '1', 730, 243, { size: 20 });
      rt(c, '2', 762, 317, { size: 20 });
      rt(c, '4', 653, 395, { size: 20 });
      seg(c, [[640, 391], [625, 377]], 1);
      rt(c, '5', 658, 432, { size: 20 });
      seg(c, [[651, 438], [637, 453]], 1);
    },
  });
}

function chartB(cv: any) {
  const ds = [
    ln(crustEvents, { w: 1.3, y: 'y2' }),
    ln(mantleEvents, { w: 1, c: '#2a2a2a', fill: 'start', bg: '#858585' }),
  ];
  return build(cv, 'line', ds, { x: lin(0, 4600), y: lin(6, 240), y2: lin(-14, 220, { position: 'right' }) }, padAge(535, 882.7), {
    beforeDatasetsDraw(ch: any) {
      const c = ch.ctx, x = ch.scales.x, y = ch.scales.y;
      const xa = x.getPixelForValue(634), xb = x.getPixelForValue(4000);
      c.fillStyle = '#d7d7d7';
      c.fillRect(xa, y.getPixelForValue(20), xb - xa, y.getPixelForValue(6) - y.getPixelForValue(20));
    },
    afterDatasetsDraw(ch: any) {
      const c = ch.ctx, x = ch.scales.x, y = ch.scales.y, y2 = ch.scales.y2;
      const xa = x.getPixelForValue(634), xr = x.getPixelForValue(4000);
      const yb = y.getPixelForValue(6);
      seg(c, [[xa, y2.getPixelForValue(0)], [xr, y2.getPixelForValue(0)]], 1.8, '#555');
      seg(c, [[X0, 535], [X0, yb]], 1.6);
      for (let v = 20; v <= 240; v += 20) { const py = y.getPixelForValue(v); seg(c, [[X0 - (v % 40 === 0 ? 7 : 4), py], [X0, py]], 1.2); }
      mantleTicks.forEach((v) => rt(c, String(v), X0 - 10, y.getPixelForValue(v), { align: 'right' }));
      rt(c, '0', 76, 902);
      seg(c, [[xr, 535], [xr, yb]], 1.6);
      for (let v = 0; v <= 220; v += 20) { const py = y2.getPixelForValue(v); seg(c, [[xr, py], [xr + (v % 40 === 20 || v === 0 ? 9 : 5), py]], 1.2); }
      crustTicks.forEach((v) => rt(c, String(v), xr + 14, y2.getPixelForValue(v), { align: 'left' }));
      seg(c, [[X0, yb], [xr, yb]], 1.6);
      for (let a = 500; a <= 3500; a += 500) { const px = x.getPixelForValue(a); seg(c, [[px, yb], [px, yb + 7]], 1.2); }
      rt(c, '1000', 260, 907);
      rt(c, '2000', 407, 907);
      rt(c, '3000', 553, 907);
      ringLabel(c, '4000', 710, 905, 19, 10, 15);
      rt(c, 'Число событий для мантии (М)', 21, 713, { rot: -Math.PI / 2 });
      rt(c, 'Число событий для коры', 790, 713, { rot: -Math.PI / 2 });
      minimaAges.forEach((a, i) => {
        const px = x.getPixelForValue(a);
        seg(c, [[px, y.getPixelForValue(minimaStart[i])], [px, 910]], 3.6, INK, [3.6, 3.6]);
        triDown(c, px, 921, 9, 10);
      });
      const pLast = x.getPixelForValue(3895);
      seg(c, [[pLast, y.getPixelForValue(18)], [pLast, y.getPixelForValue(10)]], 3.2, INK, [3.5, 3.5]);
      triDown(c, pLast, yb - 1, 8, 9);
      const ringed = [false, true, false, true, true, true, false, false];
      const labelX = [129.5, 193, 228, 303.6, 444, 582.6, 0, 648];
      minimaLabels.forEach((s, i) => {
        if (!s) return;
        if (ringed[i]) ringLabel(c, s, labelX[i], 933, s.length * 4.6 + 5, 9.5, 15);
        else rt(c, s, labelX[i], 933, { size: 15 });
      });
      rt(c, '*Б*', 399, 520, { size: 21 });
      rt(c, 'СУПЕРКОНТИНЕНТЫ', 337, 542, { size: 20 });
      seg(c, [[245, 553], [150, 577]], 1);
      seg(c, [[315, 552], [273, 570]], 1);
      seg(c, [[325, 552], [360, 569]], 1);
      seg(c, [[393, 553], [478, 575]], 1);
      boxLabel(c, 'IV', 136.3, 579.3, { size: 14, font: FSERIF, w: 26, h: 17 });
      boxLabel(c, 'III', 267.3, 579.3, { size: 14, font: FSERIF, w: 26, h: 17 });
      boxLabel(c, 'II', 367.3, 578.3, { size: 14, font: FSERIF, w: 22, h: 17 });
      boxLabel(c, 'I', 489.3, 579.3, { size: 14, font: FSERIF, w: 22, h: 17 });
      boxLabel(c, '400', 157.3, 631.7, { size: 20, px: 4, h: 22 });
      seg(c, [[123, 670], [114.7, 683.3]], 1);
      boxLabel(c, '120', 128, 656.7, { size: 20, px: 4, h: 22, round: 6 });
      boxLabel(c, '1880', 388, 633.3, { size: 20, px: 4, h: 22 });
      boxLabel(c, '2680', 515, 547.3, { size: 20, px: 4, h: 22 });
      rt(c, 'КОРА', 568, 595, { size: 20 });
      seg(c, [[563, 607], [515, 635]], 1);
      seg(c, [[551.7, 690], [513.3, 735]], 1);
      boxLabel(c, '2700–2720', 595, 677.3, { size: 20, px: 6, h: 24, round: 8 });
      rt(c, '920', 237, 750, { size: 20 });
      seg(c, [[251, 765], [295, 800]], 1);
      rt(c, '360', 161, 783, { size: 20 });
      rt(c, '3220', 593, 789, { size: 20 });
      rt(c, '3620', 652, 794, { size: 20 });
      rt(c, '3800', 682, 814, { size: 20 });
      c.save(); c.beginPath(); c.ellipse(151.3, 867.3, 15, 15, 0, 0, Math.PI * 2); c.fillStyle = '#fff'; c.fill(); c.restore();
      rt(c, 'M', 151.3, 867.5, { size: 20 });
      seg(c, [[236, 858], [279, 841.5]], 1);
      c.save(); c.beginPath(); c.moveTo(282, 840.3); c.lineTo(272, 840.5); c.lineTo(275, 846.5); c.closePath(); c.fillStyle = INK; c.fill(); c.restore();
    },
  });
}

function chartSr(cv: any) {
  const ds = [
    ln(srSeawaterLine, { w: 1.6, dash: [17, 9] }),
    ln(srMantleLine, { w: 1.6, dash: [17, 9] }),
    ln(seaLevel, { w: 1.3, y: 'ySea' }),
    ln(srA, { w: 1.3 }),
    ln(srB, { w: 1.3, dash: [5, 4] }),
    ln(srDashed, { w: 1.3, dash: [6, 5], mono: true }),
  ];
  return build(cv, 'line', ds, { x: lin(0, 4600), y: lin(0.70153, 0.71051), ySea: lin(-2654, 799) }, padAge(1023, 1260.7), {
    afterDatasetsDraw(ch: any) {
      const c = ch.ctx, x = ch.scales.x, y = ch.scales.y;
      const xr = x.getPixelForValue(3667);
      seg(c, [[X0, 1023], [X0, 1260.7]], 1.6);
      srTicks.forEach((v, i) => {
        const py = y.getPixelForValue(v);
        const major = i % 2 === 0;
        seg(c, [[X0 - (major ? 11 : 6), py], [X0, py]], 1.2);
        if (major) rt(c, v.toFixed(3), X0 - 14, py, { align: 'right' });
      });
      seg(c, [[X0, 1260.7], [xr, 1260.7]], 1.6);
      seg(c, [[xr, 1167], [xr, 1260.7]], 1.6);
      rt(c, '^{87}Sr/^{86}Sr', 15.6, 1008, { align: 'left' });
      rt(c, 'Уровень моря', 182, 1008);
      rt(c, '*В*', 375, 1008, { size: 21 });
      rt(c, 'а', 181, 1088, { size: 19 });
      rt(c, 'б', 164, 1130, { size: 19 });
      rt(c, '0', 228, 1077, { size: 20 });
      seg(c, [[212, 1037], [218, 1037]], 1.2);
      rt(c, '600 м', 223, 1037, { align: 'left' });
      rt(c, '^{87}Sr/^{86}Sr', 274.5, 1120, { align: 'left' });
      rt(c, 'Мантия', 452, 1240, { rot: 0.17 });
      rt(c, '^{87}Sr/^{86}Sr', 513, 1246, { align: 'left' });
      rt(c, 'Главные оледенения', 275, 957);
      glaciations.forEach((a) => triUp(c, x.getPixelForValue(a), 977.5, 7, 7.5));
    },
  });
}

function chartInset(cv: any) {
  const ds = [
    ln(steps(insetEdges1, insetCounts1), { w: 1.4, fill: 'origin', bg: makePattern('diagGrey') }),
    ln(steps(insetEdges2, insetCounts2), { w: 1.4, fill: 'origin', bg: makePattern('cross') }),
    ln(steps(insetEdges3, insetCounts3), { w: 1.4, fill: 'origin', bg: makePattern('horiz') }),
    ln(steps(insetEdges4, insetCounts4), { w: 1.4, fill: 'origin', bg: makePattern('horiz') }),
  ];
  return build(cv, 'line', ds, { x: lin(3780, 4460), y: lin(0, 12) }, { left: 533.47, right: W - 755.6, top: 997.4, bottom: H - 1097.5 }, {
    beforeDatasetsDraw(ch: any) {
      const c = ch.ctx;
      c.fillStyle = '#fff'; c.fillRect(511, 972, 285, 195);
      c.lineWidth = 2; c.strokeStyle = INK; c.strokeRect(511, 972, 285, 195);
    },
    afterDatasetsDraw(ch: any) {
      const c = ch.ctx, x = ch.scales.x, y = ch.scales.y;
      const y0 = y.getPixelForValue(0), xr = x.getPixelForValue(4451);
      seg(c, [[x.getPixelForValue(3800), y0], [xr, y0]], 1.5);
      for (let a = 3800; a <= 4400; a += 100) { const px = x.getPixelForValue(a); seg(c, [[px, y0], [px, y0 + 7]], 1.2); }
      seg(c, [[x.getPixelForValue(3899), y0], [x.getPixelForValue(3899), y.getPixelForValue(3.6)]], 1.3);
      insetXTicks.forEach((a) => rt(c, String(a), x.getPixelForValue(a), 1122.7));
      seg(c, [[xr, y0], [xr, y.getPixelForValue(12)]], 1.5);
      for (let v = 2; v <= 12; v += 2) { const py = y.getPixelForValue(v); seg(c, [[xr, py], [xr + 8, py]], 1.3); }
      insetYTicks.forEach((v) => rt(c, String(v), xr + 11, y.getPixelForValue(v), { align: 'left' }));
      rt(c, '*n*', 777, 993);
      rt(c, 'млн лет', 646, 1147);
    },
  });
}

function chartK2O(cv: any) {
  const ds = [
    ln(k2oLower, { w: 1.6, mono: true }),
    ln(k2oUpper, { w: 1.5, mono: true, fill: { target: 0 }, bg: makePattern('diag') }),
    ln(k2oSolid, { w: 2.6, mono: true }),
    ln(k2oDashed, { w: 2.6, dash: [10, 7], mono: true, order: -1 }),
  ];
  return build(cv, 'line', ds, { x: lin(0, 4600), y: lin(1.015, 2.958) }, padAge(1285, 1362.7), {
    afterDatasetDraw(ch: any, args: any) {
      if (args.index !== 0) return;
      const c = ch.ctx;
      rt(c, 'Аркозы', 328, 1321, { size: 19, bg: '#fff' });
      rt(c, 'Граниты', 407, 1334, { size: 18, bg: '#fff' });
    },
    afterDatasetsDraw(ch: any) {
      const c = ch.ctx, x = ch.scales.x, y = ch.scales.y;
      const xr = x.getPixelForValue(3667);
      const yb = 1362.7;
      seg(c, [[X0, 1303], [X0, yb]], 1.6);
      [1.5, 2, 2.5].forEach((v) => { const py = y.getPixelForValue(v); seg(c, [[X0 - 10, py], [X0, py]], 1.2); });
      rt(c, '2', 76, y.getPixelForValue(2));
      seg(c, [[X0, yb], [xr, yb]], 1.6);
      seg(c, [[xr, 1285], [xr, yb]], 1.6);
      rt(c, 'K_{2}O/Na_{2}O', 20, 1281, { align: 'left' });
      rt(c, '0', 76, 1382);
      rt(c, '1000', x.getPixelForValue(1000), 1382);
      rt(c, '2000', x.getPixelForValue(2000), 1382);
      rt(c, '3000 млн лет', 533.5, 1382, { align: 'left' });
      seg(c, [[X0, 1396.7], [xr, 1396.7]], 1.6, '#555');
      seg(c, [[X0, 1416], [xr, 1416]], 1.6, '#555');
      eraBounds.slice(0, 6).forEach((a) => { const px = x.getPixelForValue(a); seg(c, [[px, 1396.7], [px, 1416]], 1.2, '#555'); });
      eraNames.forEach((s, i) => rt(c, s, x.getPixelForValue(eraLabelAges[i]), 1406.5, { size: 19 }));
    },
  });
}

function chartZircon(cv: any) {
  const ds = riverSeries.map((vals, i) => ({
    label: rivers[i],
    data: binAges.map((a, k) => ({ x: a, y: vals[k] })),
    backgroundColor: riverColors[i],
    borderColor: 'rgba(85,85,85,0.55)',
    borderWidth: 0.6,
    barPercentage: 0.9,
    categoryPercentage: 1.0,
    stack: 'all',
  }));
  return build(cv, 'bar', ds, { x: lin(0, 4.5, { stacked: true, offset: false }), y: lin(0, 40, { stacked: true }) }, { left: 91.9, right: W - 704.5, top: 1516.7, bottom: H - 1786.7 }, {
    beforeDatasetsDraw(ch: any) {
      const c = ch.ctx, x = ch.scales.x, y = ch.scales.y;
      const xe = 591.6, x0 = x.getPixelForValue(0), x45 = x.getPixelForValue(4.5);
      c.fillStyle = '#f1f1f1';
      c.fillRect(x0, 1516.7, xe - x0, 1786.7 - 1516.7);
      c.fillRect(xe, 1781, x45 - xe, 5.7);
      [10, 20, 30].forEach((v) => seg(c, [[x0 + 8, y.getPixelForValue(v)], [xe, y.getPixelForValue(v)]], 1.5, '#c6c6c6'));
      [1, 2, 3].forEach((v) => seg(c, [[x.getPixelForValue(v), 1516.7], [x.getPixelForValue(v), 1786.7]], 1, '#c6c6c6'));
      seg(c, [[x.getPixelForValue(4), 1781], [x.getPixelForValue(4), 1786.7]], 1, '#c6c6c6');
    },
    afterDatasetsDraw(ch: any) {
      const c = ch.ctx, x = ch.scales.x;
      const x0 = x.getPixelForValue(0), x45 = x.getPixelForValue(4.5);
      seg(c, [[x0, 1516.7], [591.6, 1516.7]], 2.6, '#9a9a9a');
      seg(c, [[x0, 1515.5], [x0, 1787]], 2, '#777');
      seg(c, [[x0, 1786.7], [x45, 1786.7]], 2.2, '#555');
      gaTicks.forEach((v) => {
        const px = x.getPixelForValue(v);
        seg(c, [[px, 1786.7], [px, 1795]], 1.6, '#444');
        rt(c, v === 0 ? '0' : v.toFixed(1), px, 1810, { size: 21, color: '#222' });
      });
      rt(c, 'Age, Ga', 393, 1831, { size: 21, color: '#222' });
      rt(c, 'Frequence, %', 69, 1653, { size: 21, color: '#222', rot: -Math.PI / 2, ls: '2.5px' });
      c.save();
      c.fillStyle = '#fff'; c.fillRect(x0, 1478, x45 - x0, 19);
      supercontinentAges.forEach((a) => {
        const px = x.getPixelForValue(a);
        const g = c.createLinearGradient(px - 9, 0, px + 9, 0);
        g.addColorStop(0, 'rgba(90,90,90,0)');
        g.addColorStop(0.35, 'rgba(90,90,90,0.85)');
        g.addColorStop(0.5, 'rgba(80,80,80,1)');
        g.addColorStop(0.65, 'rgba(90,90,90,0.85)');
        g.addColorStop(1, 'rgba(90,90,90,0)');
        c.fillStyle = g; c.fillRect(px - 9, 1479, 18, 17);
      });
      c.lineWidth = 2; c.strokeStyle = '#999'; c.strokeRect(x0, 1478, x45 - x0, 19);
      c.restore();
      const lblPos = [[120, 1462], [165, 1439], [234, 1462], [291, 1439], [335, 1462]];
      supercontinents.forEach((s, i) => rt(c, s, lblPos[i][0], lblPos[i][1], { size: 19, color: '#222' }));
      rt(c, 'Supercontinent', 628, 1463, { size: 20, color: '#222' });
      c.fillStyle = '#222'; c.fillRect(542, 1476, 2, 2);
      const tips = [1670, 1533, 1533, 1655, 1622];
      supercontinentAges.forEach((a, i) => {
        const px = x.getPixelForValue(a) + [0, -1, -1.5, -1.5, -1][i];
        const sw = 2.6, hw = 7.5, hl = 14, y0 = 1512, y1 = tips[i];
        c.save();
        c.beginPath();
        c.moveTo(px - sw, y0); c.lineTo(px - sw, y1 - hl); c.lineTo(px - hw, y1 - hl); c.lineTo(px, y1);
        c.lineTo(px + hw, y1 - hl); c.lineTo(px + sw, y1 - hl); c.lineTo(px + sw, y0); c.closePath();
        c.fillStyle = '#fff'; c.fill(); c.strokeStyle = '#7a7a7a'; c.lineWidth = 1.2; c.stroke();
        c.restore();
      });
      rivers.forEach((name, i) => {
        const col = i < 8 ? 0 : 1, row = i % 8;
        const sx = col ? 767 : 614;
        const cy = 1517 + row * 34.75;
        c.fillStyle = riverColors[i]; c.fillRect(sx, cy - 14.5, 60, 29);
        c.lineWidth = 1.6; c.strokeStyle = '#333'; c.strokeRect(sx, cy - 14.5, 60, 29);
        rt(c, name, sx + (col ? 70 : 71), cy, { size: 21, align: 'left', color: '#222' });
      });
    },
  });
}

const builders = [chartA, chartT, chartB, chartSr, chartK2O, chartZircon, chartInset];

export default function App() {
  const refs = useRef<(HTMLCanvasElement | null)[]>([]);
  useEffect(() => {
    const charts = builders.map((b, i) => b(refs.current[i]));
    return () => charts.forEach((ch) => ch.destroy());
  }, []);
  return (
    <div style={{ position: 'absolute', left: 0, top: 0, width: W, height: H, background: '#fff', overflow: 'hidden' }}>
      {builders.map((_, i) => (
        <canvas
          key={i}
          ref={(el) => { refs.current[i] = el; }}
          width={W}
          height={H}
          style={{ position: 'absolute', left: 0, top: 0, width: W, height: H }}
        />
      ))}
    </div>
  );
}
